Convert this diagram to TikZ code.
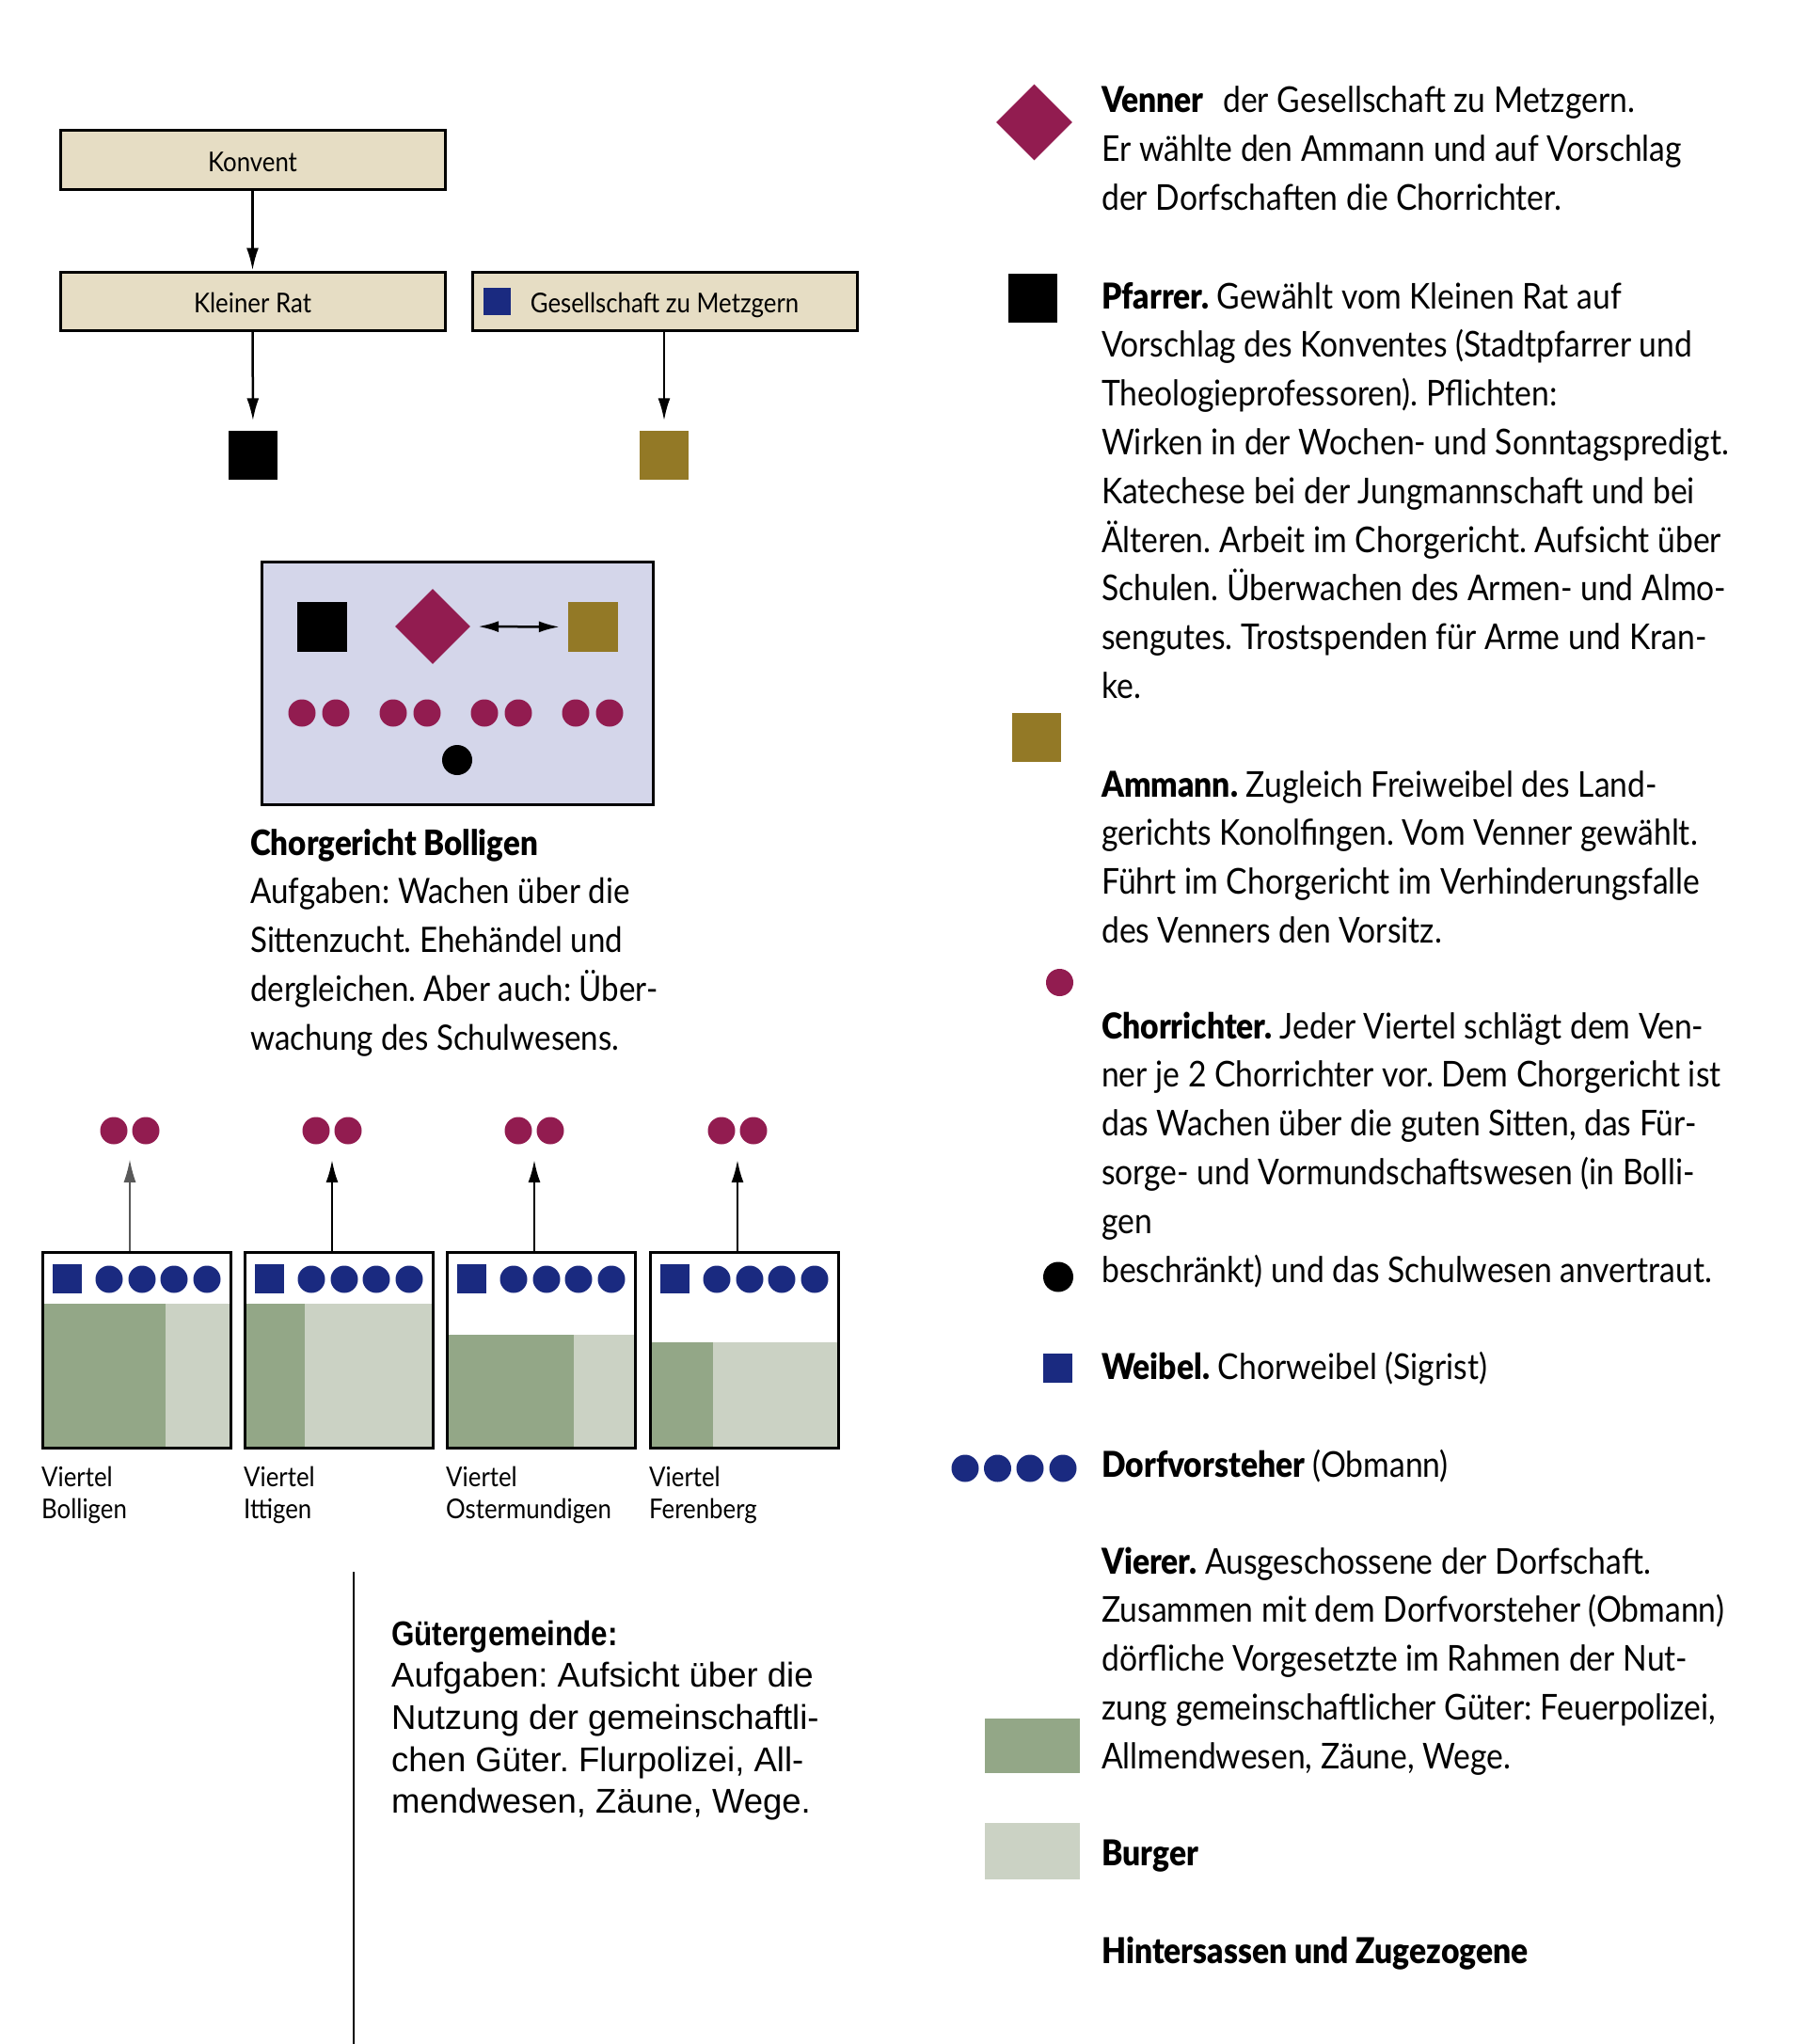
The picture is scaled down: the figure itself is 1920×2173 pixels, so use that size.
\documentclass[tikz,border=0pt]{standalone}
\usepackage{fontspec}
\usetikzlibrary{arrows.meta,shapes.geometric}
\setmainfont{Lato}
\newfontfamily\cf[FakeStretch=0.89, BoldFont={Lato Black}]{Lato}
\newfontfamily\cg[FakeStretch=0.89, BoldFont={Lato Black}]{Lato}
\newfontfamily\hf{Liberation Sans}
\newfontfamily\hfc[FakeStretch=0.86]{Liberation Sans}
\definecolor{beige}{HTML}{E6DDC4}
\definecolor{lav}{HTML}{D4D6EA}
\definecolor{mag}{HTML}{921C50}
\definecolor{gold}{HTML}{937926}
\definecolor{navy}{HTML}{1A2A80}
\definecolor{dgreen}{HTML}{93A787}
\definecolor{lgreen}{HTML}{CBD2C4}
\newcommand\legtext[1]{\parbox[t]{760pt}{\raggedright\frenchspacing\cf\fontsize{37.8}{51.8}\selectfont #1}}
\newcommand\chortext[1]{\parbox[t]{600pt}{\raggedright\frenchspacing\cg\fontsize{37.2}{51.8}\selectfont #1}}
\newcommand\gutext[1]{\parbox[t]{600pt}{\raggedright\frenchspacing\hf\fontsize{36.5}{44.7}\selectfont #1}}
\newcommand\viertext[1]{\parbox[t]{300pt}{\raggedright\cf\fontsize{29}{34}\selectfont #1}}
\tikzset{
  topbox/.style={draw=black, line width=3pt, fill=beige, minimum width=409pt, minimum height=62pt, inner sep=0pt, text height=25pt, text depth=0pt, font=\cf\fontsize{29}{34}\selectfont},
  sqbox/.style={rectangle, inner sep=0pt, minimum size=#1},
  dot/.style={circle, inner sep=0pt, minimum size=#1},
  arr/.style={-{Latex[length=24pt,width=13pt]}, line width=2.5pt},
  thinarr/.style={-{Latex[length=24pt,width=13pt]}, line width=1.2pt, draw=black!65},
  dblarr/.style={{Latex[length=22pt,width=12pt]}-{Latex[length=22pt,width=12pt]}, line width=2.5pt},
  txt/.style={anchor=base west, inner sep=0pt},
  vbox/.style={draw=black, line width=3pt, minimum width=200pt, minimum height=208pt, inner sep=0pt, anchor=north west}
}
\begin{document}
\begin{tikzpicture}[x=1pt,y=-1pt]
\useasboundingbox (0,0) rectangle (1920,2173);
\fill[white] (0,0) rectangle (1920,2173);

% ---------- top hierarchy ----------
\node[topbox] (konvent) at (268.5,170) {Konvent};
\node[topbox] (kleinrat) at (268.5,320) {Kleiner Rat};
\node[topbox] (gesell) at (706.5,320) {Gesellschaft zu Metzgern};
\node[sqbox=29pt, fill=navy] (gesq) at (528.5,320.5) {};
\node[sqbox=52pt, fill=black] (pf1) at (269,483.5) {};
\node[sqbox=52pt, fill=gold] (am1) at (706,483.5) {};
\draw[arr] (konvent) -- (kleinrat);
\draw[arr, shorten >=10pt] (kleinrat) -- (pf1);
\draw[arr, shorten >=10pt] (gesell.south -| am1) -- (am1);

% ---------- Chorgericht ----------
\node[draw=black, line width=3pt, fill=lav, minimum width=416pt, minimum height=258pt, inner sep=0pt, anchor=north west] (chor) at (277,596) {};
\node[sqbox=53pt, fill=black] (pf2) at (342,666.5) {};
\node[diamond, fill=mag, inner sep=0pt, minimum width=80pt, minimum height=80pt] (ven2) at (460,666) {};
\node[sqbox=53pt, fill=gold] (am2) at (630.5,666.5) {};
\draw[dblarr, shorten <=8pt, shorten >=9pt] (ven2.east) -- (am2.west);
\foreach \i/\x in {1/321,2/357,3/418,4/454,5/515,6/551,7/612,8/648}
  \node[dot=29pt, fill=mag] (cr\i) at (\x,758) {};
\node[dot=32pt, fill=black] (sig) at (486,808) {};

\node[txt] (chortxt) at (266,909) {\chortext{\textbf{Chorgericht Bolligen}\\
Aufgaben: Wachen über die\\
Sittenzucht. Ehehändel und\\
dergleichen. Aber auch: Über-\\
wachung des Schulwesens.}};

% ---------- Viertel ----------
\foreach \n/\l/\s/\g in {1/44/132/1386, 2/259/65/1386, 3/474/136/1419, 4/690/68/1427}{
  \fill[dgreen] (\l,\g) rectangle (\l+\s,1538);
  \fill[lgreen] (\l+\s,\g) rectangle (\l+200,1538);
  \node[sqbox=31pt, fill=navy] (w\n) at (\l+27,1359) {};
  \foreach \k/\dx in {1/72,2/107,3/141,4/176}
    \node[dot=29pt, fill=navy] (d\n\k) at (\l+\dx,1360) {};
  \node[vbox] (v\n) at (\l,1330) {};
  \node[dot=29pt, fill=mag] (p\n a) at (\l+77,1202) {};
  \node[dot=29pt, fill=mag] (p\n b) at (\l+111,1202) {};
  \coordinate (t\n) at (\l+94,1233);
}
\draw[thinarr] (v1.north -| t1) -- (t1);
\draw[arr] (v2.north -| t2) -- (t2);
\draw[arr] (v3.north -| t3) -- (t3);
\draw[arr] (v4.north -| t4) -- (t4);

\node[txt] (vl1) at (44,1580) {\viertext{Viertel\\Bolligen}};
\node[txt] (vl2) at (259,1580) {\viertext{Viertel\\Ittigen}};
\node[txt] (vl3) at (474,1580) {\viertext{Viertel\\Ostermundigen}};
\node[txt] (vl4) at (690,1580) {\viertext{Viertel\\Ferenberg}};

% ---------- Gütergemeinde ----------
\coordinate (gl1) at (376,1671);
\coordinate (gl2) at (376,2173);
\draw[line width=2.5pt] (gl1) -- (gl2);
\node[txt] (guet) at (416,1749) {\gutext{{\hfc\bfseries Gütergemeinde:}\\
Aufgaben: Aufsicht über die\\
Nutzung der gemeinschaftli-\\
chen Güter. Flurpolizei, All-\\
mendwesen, Zäune, Wege.}};

% ---------- legend ----------
\node[diamond, fill=mag, inner sep=0pt, minimum width=81pt, minimum height=81pt] (lven) at (1099.5,130) {};
\node[txt] (tven) at (1171,120) {\legtext{\textbf{Venner}\hspace{12pt} der Gesellschaft zu Metzgern.\\
Er wählte den Ammann und auf Vorschlag\\
der Dorfschaften die Chorrichter.}};

\node[sqbox=52pt, fill=black] (lpf) at (1098,316.5) {};
\node[txt] (tpf) at (1171,328) {\legtext{\textbf{Pfarrer.} Gewählt vom Kleinen Rat auf\\
Vorschlag des Konventes (Stadtpfarrer und\\
Theologieprofessoren). Pflichten:\\
Wirken in der Wochen- und Sonntagspredigt.\\
Katechese bei der Jungmannschaft und bei\\
Älteren. Arbeit im Chorgericht. Aufsicht über\\
Schulen. Überwachen des Armen- und Almo-\\
sengutes. Trostspenden für Arme und Kran-\\
ke.}};

\node[sqbox=52pt, fill=gold] (lam) at (1102,783.5) {};
\node[txt] (tam) at (1171,847) {\legtext{\textbf{Ammann.} Zugleich Freiweibel des Land-\\
gerichts Konolfingen. Vom Venner gewählt.\\
Führt im Chorgericht im Verhinderungsfalle\\
des Venners den Vorsitz.}};

\node[dot=29pt, fill=mag] (lcr) at (1126.5,1044.5) {};
\node[txt] (tcr) at (1171,1104) {\legtext{\textbf{Chorrichter.} Jeder Viertel schlägt dem Ven-\\
ner je 2 Chorrichter vor. Dem Chorgericht ist\\
das Wachen über die guten Sitten, das Für-\\
sorge- und Vormundschaftswesen (in Bolli-\\
gen\\
beschränkt) und das Schulwesen anvertraut.}};
\node[dot=32pt, fill=black] (lsig) at (1125,1357.5) {};

\node[sqbox=31pt, fill=navy] (lwe) at (1124,1454) {};
\node[txt] (twe) at (1171,1466) {\legtext{\textbf{Weibel.} Chorweibel (Sigrist)}};

\foreach \k/\x in {1/1026,2/1060.5,3/1095,4/1130}
  \node[dot=29pt, fill=navy] (ldv\k) at (\x,1561) {};
\node[txt] (tdv) at (1171,1570) {\legtext{\textbf{Dorfvorsteher} (Obmann)}};

\node[txt] (tvi) at (1171,1673) {\legtext{\textbf{Vierer.} Ausgeschossene der Dorfschaft.\\
Zusammen mit dem Dorfvorsteher (Obmann)\\
dörfliche Vorgesetzte im Rahmen der Nut-\\
zung gemeinschaftlicher Güter: Feuerpolizei,\\
Allmendwesen, Zäune, Wege.}};
\node[sqbox=0pt, fill=dgreen, minimum width=101pt, minimum height=58pt] (lbu) at (1097.5,1856) {};
\node[sqbox=0pt, fill=lgreen, minimum width=101pt, minimum height=60pt] (lhi) at (1097.5,1968) {};
\node[txt] (tbu) at (1171,1983) {\legtext{\textbf{Burger}}};
\node[txt] (thi) at (1171,2087) {\legtext{\textbf{Hintersassen und Zugezogene}}};
\end{tikzpicture}
\end{document}
